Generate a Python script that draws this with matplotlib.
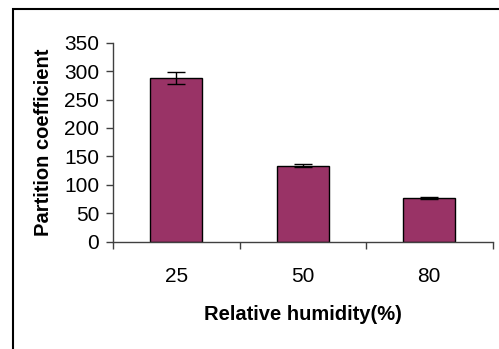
import matplotlib
matplotlib.use('Agg')
import matplotlib.pyplot as plt
import matplotlib.patches as patches

# data
humidity = ['25', '50', '80']
partition = [288, 134, 77]
errors = [10, 3, 2]
y_ticks = [0, 50, 100, 150, 200, 250, 300, 350]

plt.rcParams['font.family'] = ['Liberation Sans', 'DejaVu Sans']

fig = plt.figure(figsize=(4.99, 3.49), dpi=100)
W, H = 499, 349

# outer chart frame (right / bottom run off the picture)
frame = patches.Rectangle((12.5 / W, -0.1), 1.2, (H - 9.5) / H + 0.1,
                          transform=fig.transFigure, fill=False,
                          ec='black', lw=1.5)
fig.add_artist(frame)

ax = fig.add_axes([113 / W, 1 - 241.7 / H, (492.5 - 113) / W, (241.7 - 42.7) / H])

x = list(range(len(humidity)))
ax.bar(x, partition, width=0.41, color='#993366', edgecolor='black', lw=1.0,
       yerr=errors, capsize=6.5, error_kw=dict(ecolor='black', elinewidth=1.0, capthick=1.0),
       zorder=2)

ax.set_xlim(-0.5, len(humidity) - 0.5)
ax.set_ylim(0, 350)
ax.set_yticks(y_ticks)
ax.set_yticklabels([str(v) for v in y_ticks], fontsize=15)

# category labels at centres, tick marks between categories
ax.set_xticks([i - 0.5 for i in range(len(humidity) + 1)])
ax.set_xticklabels([''] * (len(humidity) + 1))
ax.set_xticks(x, minor=True)
ax.set_xticklabels(humidity, minor=True, fontsize=15)
ax.tick_params(axis='x', which='minor', length=0, pad=18)
ax.tick_params(axis='both', which='major', length=5, width=1.0, color='#404040', direction='out')
ax.tick_params(axis='y', pad=5)

for s in ['top', 'right']:
    ax.spines[s].set_visible(False)
for s in ['left', 'bottom']:
    ax.spines[s].set_color('#404040')
    ax.spines[s].set_linewidth(1.0)

ax.set_xlabel('Relative humidity(%)', fontsize=14.5, fontweight='bold', labelpad=14)
ax.set_ylabel('Partition coefficient', fontsize=14.5, fontweight='bold', labelpad=8)

fig.savefig('out.png', dpi=100)
